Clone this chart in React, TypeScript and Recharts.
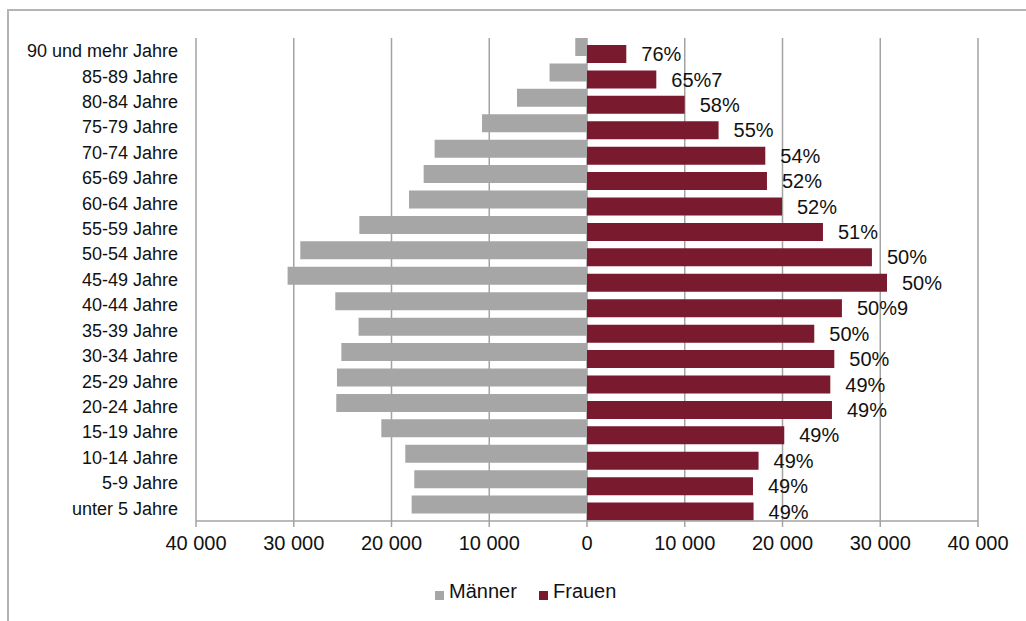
import React from 'react';
import { BarChart, Bar, XAxis, YAxis, CartesianGrid, LabelList, Legend } from 'recharts';

const categories = [
  '90 und mehr Jahre', '85-89 Jahre', '80-84 Jahre', '75-79 Jahre', '70-74 Jahre',
  '65-69 Jahre', '60-64 Jahre', '55-59 Jahre', '50-54 Jahre', '45-49 Jahre',
  '40-44 Jahre', '35-39 Jahre', '30-34 Jahre', '25-29 Jahre', '20-24 Jahre',
  '15-19 Jahre', '10-14 Jahre', '5-9 Jahre', 'unter 5 Jahre',
];
const maenner = [1200, 3830, 7160, 10740, 15590, 16710, 18210, 23290, 29330, 30630, 25750, 23370, 25130, 25580, 25650, 21040, 18590, 17670, 17940];
const frauen = [4020, 7090, 9990, 13460, 18240, 18410, 19950, 24140, 29150, 30690, 26080, 23250, 25300, 24890, 25060, 20180, 17550, 16980, 17040];
const anteile = ['76%', '65%7', '58%', '55%', '54%', '52%', '52%', '51%', '50%', '50%', '50%9', '50%', '50%', '49%', '49%', '49%', '49%', '49%', '49%'];
const xTicks = [-40000, -30000, -20000, -10000, 0, 10000, 20000, 30000, 40000];
const seriesNames = ['Männer', 'Frauen'];

const data = categories.map((cat, i) => ({ cat, m: -maenner[i], f: frauen[i], pct: anteile[i] }));

const FONT = "'Liberation Sans', Arial, sans-serif";
const GREY = '#a6a6a6';
const RED = '#7a1a2e';
const GRID = '#a3a3a3';

const fmt = (v: number) => {
  const a = Math.abs(v);
  if (a < 1000) return String(a);
  const th = Math.floor(a / 1000);
  const rest = String(a % 1000).padStart(3, '0');
  return `${th} ${rest}`;
};

const LegendContent = () => (
  <div style={{ position: 'relative', width: 220, height: 24, fontFamily: FONT, fontSize: 20, color: '#111' }}>
    <div style={{ position: 'absolute', left: 0, top: 12, width: 9, height: 9, background: GREY }} />
    <span style={{ position: 'absolute', left: 14, top: 0, lineHeight: '24px', whiteSpace: 'nowrap' }}>{seriesNames[0]}</span>
    <div style={{ position: 'absolute', left: 104, top: 12, width: 9, height: 9, background: RED }} />
    <span style={{ position: 'absolute', left: 118, top: 0, lineHeight: '24px', whiteSpace: 'nowrap' }}>{seriesNames[1]}</span>
  </div>
);

export default function App() {
  return (
    <div style={{ position: 'absolute', left: 0, top: 0, width: 1026, height: 621, overflow: 'hidden', background: '#fff', fontFamily: FONT }}>
      <div style={{ position: 'absolute', left: 7, top: 9, width: 1019, height: 612, borderTop: '2px solid #b4b4b4', borderLeft: '2px solid #b4b4b4', boxSizing: 'border-box' }} />
      <div style={{ position: 'absolute', left: 0, top: 0 }}>
        <BarChart
          width={1026}
          height={621}
          data={data}
          layout="vertical"
          margin={{ top: 38, right: 48, bottom: 40, left: 0 }}
          barGap={-11}
          barCategoryGap={0}
        >
          <CartesianGrid horizontal={false} stroke={GRID} strokeWidth={1.5} />
          <XAxis
            type="number"
            domain={[-40000, 40000]}
            ticks={xTicks}
            tickFormatter={fmt}
            interval={0}
            height={60}
            stroke={GRID}
            strokeWidth={1.5}
            tickSize={6}
            tickMargin={9}
            tick={{ fill: '#111', fontSize: 20, fontFamily: FONT }}
          />
          <YAxis
            type="category"
            dataKey="cat"
            width={196}
            axisLine={false}
            tickLine={false}
            tickSize={0}
            tickMargin={18}
            interval={0}
            tick={{ fill: '#111', fontSize: 18, fontFamily: FONT }}
          />
          <Bar dataKey="m" name={seriesNames[0]} fill={GREY} barSize={18} isAnimationActive={false} />
          <Bar dataKey="f" name={seriesNames[1]} fill={RED} barSize={18} isAnimationActive={false}>
            <LabelList dataKey="pct" position="right" offset={15} fill="#111" fontSize={20} fontFamily={FONT} />
          </Bar>
          <Legend
            layout="horizontal"
            verticalAlign="middle"
            align="center"
            content={LegendContent}
            wrapperStyle={{ top: 579, left: 435, width: 220, height: 24 }}
          />
        </BarChart>
      </div>
    </div>
  );
}
